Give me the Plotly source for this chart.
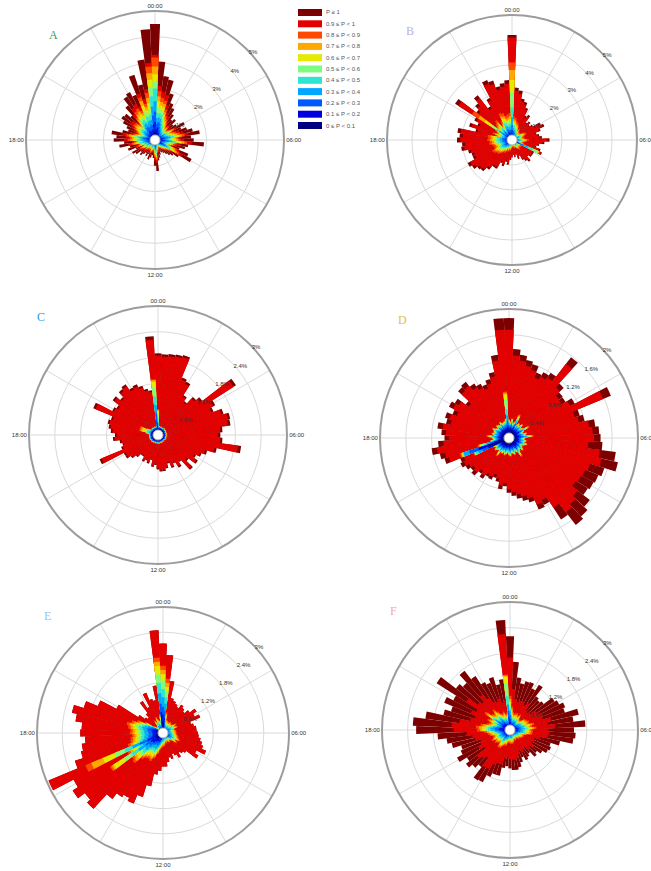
import plotly.graph_objects as go

# ---------------- categories / ticks ----------------
directions_deg = list(range(0, 360, 5))           # 72 direction bins (clockwise from 00:00)
hour_labels = ["00:00", "06:00", "12:00", "18:00"]
categories = ["P ≥ 1", "0.9 ≤ P < 1", "0.8 ≤ P < 0.9", "0.7 ≤ P < 0.8", "0.6 ≤ P < 0.7",
              "0.5 ≤ P < 0.6", "0.4 ≤ P < 0.5", "0.3 ≤ P < 0.4", "0.2 ≤ P < 0.3",
              "0.1 ≤ P < 0.2", "0 ≤ P < 0.1"]
colors = ["#7c0000", "#e20000", "#ff4800", "#ffa800", "#e4ea00", "#7cfc82",
          "#30e4d4", "#00a6ff", "#0058ff", "#0000df", "#00007e"]
panel_letters = ["A", "B", "C", "D", "E", "F"]
letter_colors = ["#3c9a5f", "#b4b4e0", "#2e9bdc", "#e6c04a", "#90c8ea", "#f2a6bf"]
ticks_A = [1, 2, 3, 4, 5]
ticks_B = [1, 2, 3, 4, 5]
ticks_C = [0.6, 1.2, 1.8, 2.4, 3]
ticks_D = [0.4, 0.8, 1.2, 1.6, 2]
ticks_E = [0.6, 1.2, 1.8, 2.4, 3]
ticks_F = [0.6, 1.2, 1.8, 2.4, 3]

# ---------------- data: cumulative frequency per bin, units of 0.01 % ----------------
# *_total = all records, *_lt_1 = P < 1, *_lt_09 = P < 0.9, ... , *_lt_01 = P < 0.1
A_total = [450,305,250,240,190,155,140,120,100,110,90,100,130,110,130,150,175,140,150,190,130,120,100,140,160,110,90,80,70,60,55,50,60,70,80,120,100,70,60,70,80,60,70,60,70,80,70,90,100,80,110,100,140,120,160,150,170,130,110,120,140,155,150,130,170,200,210,190,265,220,315,430]
A_lt_1 = [330,210,188,180,143,116,105,90,75,83,68,75,98,83,98,113,131,105,113,143,98,90,75,105,120,83,68,60,53,45,41,38,45,53,60,90,75,53,45,53,60,45,53,45,53,60,53,68,75,60,83,75,105,90,120,113,128,98,83,90,105,116,113,98,128,150,158,143,190,165,200,300]
A_lt_09 = [320,190,165,158,125,102,92,79,66,73,59,66,86,73,86,99,116,92,99,125,86,79,66,92,106,73,59,53,46,40,36,33,40,46,53,79,66,46,40,46,53,40,46,40,46,53,46,59,66,53,73,66,92,79,106,99,112,86,73,79,92,102,99,86,112,132,139,125,175,145,185,285]
A_lt_08 = [285,170,150,144,114,93,84,72,60,66,54,60,78,66,78,90,105,84,90,114,78,72,60,84,96,66,54,48,42,36,33,30,36,42,48,72,60,42,36,42,48,36,42,36,42,48,42,54,60,48,66,60,84,72,96,90,102,78,66,72,84,93,90,78,102,120,126,114,160,132,165,260]
A_lt_07 = [255,150,135,130,103,84,76,65,54,59,49,54,70,59,70,81,95,76,81,103,70,65,54,76,86,59,49,43,38,32,30,27,32,38,43,65,54,38,32,38,43,32,38,32,38,43,38,49,54,43,59,54,76,65,86,81,92,70,59,65,76,84,81,70,92,108,113,103,140,119,145,235]
A_lt_06 = [225,125,120,115,91,74,67,58,48,53,43,48,62,53,62,72,84,67,72,91,62,58,48,67,77,53,43,38,34,29,26,24,29,34,38,58,48,34,29,34,38,29,34,29,34,38,34,43,48,38,53,48,67,58,77,72,82,62,53,58,67,74,72,62,82,96,101,91,115,106,120,205]
A_lt_05 = [200,105,105,101,80,65,59,50,42,46,38,42,55,46,55,63,74,59,63,80,55,50,42,59,67,46,38,34,29,25,23,21,25,29,34,50,42,29,25,29,34,25,29,25,29,34,29,38,42,34,46,42,59,50,67,63,71,55,46,50,59,65,63,55,71,84,88,80,95,92,100,170]
A_lt_04 = [150,85,88,84,67,54,49,42,35,39,32,35,46,39,46,53,61,49,53,67,46,42,35,49,56,39,32,28,25,21,19,18,21,25,28,42,35,25,21,25,28,21,25,21,25,28,25,32,35,28,39,35,49,42,56,53,60,46,39,42,49,54,53,46,60,70,74,67,75,77,80,130]
A_lt_03 = [110,62,70,67,53,43,39,34,28,31,25,28,36,31,36,42,49,39,42,53,36,34,28,39,45,31,25,22,20,17,15,14,17,20,22,34,28,20,17,20,22,17,20,17,20,22,20,25,28,22,31,28,39,34,45,42,48,36,31,34,39,43,42,36,48,56,59,53,55,62,60,95]
A_lt_02 = [70,42,50,48,38,31,28,24,20,22,18,20,26,22,26,30,35,28,30,38,26,24,20,28,32,22,18,16,14,12,11,10,12,14,16,24,20,14,12,14,16,12,14,12,14,16,14,18,20,16,22,20,28,24,32,30,34,26,22,24,28,31,30,26,34,40,42,38,38,44,40,60]
A_lt_01 = [35,24,30,29,23,19,17,14,12,13,11,12,16,13,16,18,21,17,18,23,16,14,12,17,19,13,11,10,8,7,7,6,7,8,10,14,12,8,7,8,10,7,8,7,8,10,8,11,12,10,13,12,17,14,19,18,20,16,13,14,17,19,18,16,20,24,25,23,22,26,22,30]

B_total = [420,210,200,170,160,140,110,120,90,100,90,100,130,140,120,100,110,120,150,130,110,100,120,130,100,100,100,90,110,100,90,70,80,60,70,60,70,80,100,90,110,100,130,130,150,170,175,190,200,170,170,180,205,200,220,210,220,150,180,150,170,270,180,200,225,160,190,260,250,220,230,240]
B_lt_1 = [410,197,188,160,150,132,103,113,85,94,85,94,122,132,113,94,103,113,141,122,103,94,113,125,94,94,94,85,103,94,85,66,75,56,66,56,66,75,94,85,103,94,122,122,141,160,165,179,188,160,160,169,193,188,207,197,207,141,169,141,160,254,169,188,212,150,179,244,235,207,216,226]
B_lt_09 = [310,95,90,77,72,63,50,54,41,45,41,45,59,63,54,45,50,54,68,59,50,45,54,120,45,45,45,41,50,45,41,32,36,27,32,27,32,36,45,41,50,45,59,59,68,77,79,86,90,77,77,81,92,90,99,95,99,68,81,68,77,190,81,90,101,72,86,117,113,99,104,108]
B_lt_08 = [280,84,80,68,64,56,44,48,36,40,36,40,52,56,48,40,44,48,60,52,44,40,48,118,40,40,40,36,44,40,36,28,32,24,28,24,28,32,40,36,44,40,52,52,60,68,70,76,80,68,68,72,82,80,88,84,88,60,72,60,68,160,72,80,90,64,76,104,100,88,92,96]
B_lt_07 = [240,76,72,61,58,50,40,43,32,36,32,36,47,50,43,36,40,43,54,47,40,36,43,116,36,36,36,32,40,36,32,25,29,22,25,22,25,29,36,32,40,36,47,47,54,61,63,68,72,61,61,65,74,72,79,76,79,54,65,54,61,130,65,72,81,58,68,94,90,79,83,86]
B_lt_06 = [190,67,64,54,51,45,35,38,29,32,29,32,42,45,38,32,35,38,48,42,35,32,38,114,32,32,32,29,35,32,29,22,26,19,22,19,22,26,32,29,35,32,42,42,48,54,56,61,64,54,54,58,66,64,70,67,70,48,58,48,54,100,58,64,72,51,61,83,80,70,74,77]
B_lt_05 = [130,59,56,48,45,39,31,34,25,28,25,28,36,39,34,28,31,34,42,36,31,28,34,90,28,28,28,25,31,28,25,20,22,17,20,17,20,22,28,25,31,28,36,36,42,48,49,53,56,48,48,50,57,56,62,59,62,42,50,42,48,75,50,56,63,45,53,73,70,62,64,67]
B_lt_04 = [90,48,46,39,37,32,25,28,21,23,21,23,30,32,28,23,25,28,35,30,25,23,28,70,23,23,23,21,25,23,21,16,18,14,16,14,16,18,23,21,25,23,30,30,35,39,40,44,46,39,39,41,47,46,51,48,51,35,41,35,39,60,41,46,52,37,44,60,58,51,53,55]
B_lt_03 = [60,38,36,31,29,25,20,22,16,18,16,18,23,25,22,18,20,22,27,23,20,18,22,50,18,18,18,16,20,18,16,13,14,11,13,11,13,14,18,16,20,18,23,23,27,31,32,34,36,31,31,32,37,36,40,38,40,27,32,27,31,45,32,36,41,29,34,47,45,40,41,43]
B_lt_02 = [40,27,26,22,21,18,14,16,12,13,12,13,17,18,16,13,14,16,20,17,14,13,16,32,13,13,13,12,14,13,12,9,10,8,9,8,9,10,13,12,14,13,17,17,20,22,23,25,26,22,22,23,27,26,29,27,29,20,23,20,22,32,23,26,29,21,25,34,33,29,30,31]
B_lt_01 = [20,17,16,14,13,11,9,10,7,8,7,8,10,11,10,8,9,10,12,10,9,8,10,18,8,8,8,7,9,8,7,6,6,5,6,5,6,6,8,7,9,8,10,10,12,14,14,15,16,14,14,14,16,16,18,17,18,12,14,12,14,20,14,16,18,13,15,21,20,18,18,19]

C_total = [190,188,190,192,195,145,140,110,100,120,130,215,150,140,160,172,170,150,145,150,195,140,120,110,100,110,90,110,80,90,75,83,70,80,85,85,80,70,75,60,70,65,70,60,60,70,80,90,90,147,90,85,90,105,100,110,116,120,115,163,120,115,133,120,135,140,125,128,120,110,105,230]
C_lt_1 = [185,183,185,187,190,140,135,106,96,115,125,208,145,135,155,166,164,145,140,145,188,135,115,106,96,106,86,106,77,86,72,80,67,77,82,82,77,67,72,57,67,62,67,57,57,67,77,86,86,142,86,82,86,101,96,106,112,116,111,157,116,111,128,116,130,135,120,123,116,106,101,222]
C_lt_09 = [60,21,22,20,21,22,20,21,20,22,21,20,22,21,20,21,22,20,21,22,20,21,20,22,21,20,19,21,20,19,20,21,19,20,21,20,21,19,20,21,20,19,21,20,21,22,20,21,22,22,22,21,21,22,21,22,30,45,45,45,30,22,20,21,22,21,20,22,21,20,22,130]
C_lt_08 = [58,20,21,19,20,21,19,20,19,21,20,19,21,20,19,20,21,19,20,21,19,20,19,21,20,19,18,20,19,18,19,20,18,19,20,19,20,18,19,20,19,18,20,19,20,21,19,20,21,21,21,20,20,21,20,21,28,42,42,42,28,21,19,20,21,20,19,21,20,19,21,128]
C_lt_07 = [55,20,21,19,20,21,19,20,19,21,20,19,21,20,19,20,21,19,20,21,19,20,19,21,20,19,18,20,19,18,19,20,18,19,20,19,20,18,19,20,19,18,20,19,20,21,19,20,21,21,21,20,20,21,20,21,26,38,38,38,26,21,19,20,21,20,19,21,20,19,21,124]
C_lt_06 = [45,19,20,18,19,20,18,19,18,20,19,18,20,19,18,19,20,18,19,20,18,19,18,20,19,18,17,19,18,17,18,19,17,18,19,18,19,17,18,19,18,17,19,18,19,20,18,19,20,20,20,19,19,20,19,20,23,32,32,32,23,20,18,19,20,19,18,20,19,18,20,110]
C_lt_05 = [35,19,20,18,19,20,18,19,18,20,19,18,20,19,18,19,20,18,19,20,18,19,18,20,19,18,17,19,18,17,18,19,17,18,19,18,19,17,18,19,18,17,19,18,19,20,18,19,20,20,20,19,19,20,19,20,21,27,27,27,21,20,18,19,20,19,18,20,19,18,20,90]
C_lt_04 = [28,18,19,17,18,19,17,18,17,19,18,17,19,18,17,18,19,17,18,19,17,18,17,19,18,17,16,18,17,16,17,18,16,17,18,17,18,16,17,18,17,16,18,17,18,19,17,18,19,19,19,18,18,19,18,19,19,22,22,22,19,19,17,18,19,18,17,19,18,17,19,70]
C_lt_03 = [22,17,18,16,17,18,16,17,16,18,17,16,18,17,16,17,18,16,17,18,16,17,16,18,17,16,15,17,16,15,16,17,15,16,17,16,17,15,16,17,16,15,17,16,17,18,16,17,18,18,18,17,17,18,17,18,17,18,18,18,17,18,16,17,18,17,16,18,17,16,18,50]
C_lt_02 = [16,16,17,15,16,17,15,16,15,17,16,15,17,16,15,16,17,15,16,17,15,16,15,17,16,15,14,16,15,14,15,16,14,15,16,15,16,14,15,16,15,14,16,15,16,17,15,16,17,17,17,16,16,17,16,17,16,17,17,17,16,17,15,16,17,16,15,17,16,15,17,30]
C_lt_01 = [11,14,15,13,14,15,13,14,13,15,14,13,15,14,13,14,15,13,14,15,13,14,13,15,14,13,12,14,13,12,13,14,12,13,14,13,14,12,13,14,13,12,14,13,14,15,13,14,15,15,15,14,14,15,14,15,14,15,15,15,14,15,13,14,15,14,13,15,14,13,15,15]

D_total = [186,138,130,124,120,110,115,120,158,115,105,104,115,171,115,120,135,140,142,145,167,173,155,150,148,145,158,165,170,150,117,120,105,100,95,90,85,75,80,70,65,70,68,75,70,79,75,80,85,82,105,110,121,110,100,105,112,100,104,95,105,100,85,107,110,100,95,90,96,105,130,186]
D_lt_1 = [168,128,121,115,111,102,107,111,145,107,98,97,107,158,107,111,125,130,132,123,142,147,132,128,126,123,134,140,145,128,109,112,98,93,88,84,79,70,74,65,60,65,63,70,65,73,70,74,79,76,98,102,113,102,93,98,104,93,97,88,98,93,79,100,102,93,88,84,89,98,121,168]
D_lt_09 = [29,26,31,25,27,40,24,28,26,30,25,27,36,26,24,29,27,38,26,25,28,26,30,27,24,26,29,25,27,35,26,24,28,26,25,29,27,24,26,28,25,27,26,34,25,27,29,26,28,60,80,50,30,26,27,35,25,28,26,27,30,26,24,28,27,25,29,26,27,28,31,72]
D_lt_08 = [28,25,30,24,26,38,23,27,25,29,24,26,34,25,23,28,26,36,25,24,27,25,29,26,23,25,28,24,26,33,25,23,27,25,24,28,26,23,25,27,24,26,25,32,24,26,28,25,27,59,78,48,29,25,26,33,24,27,25,26,29,25,23,27,26,24,28,25,26,27,30,70]
D_lt_07 = [27,24,29,23,25,36,22,26,24,28,23,25,32,24,22,27,25,34,24,23,26,24,28,25,22,24,27,23,25,31,24,22,26,24,23,27,25,22,24,26,23,25,24,30,23,25,27,24,26,58,77,46,28,24,25,31,23,26,24,25,28,24,22,26,25,23,27,24,25,26,29,68]
D_lt_06 = [26,23,28,22,24,34,21,25,23,27,22,24,30,23,21,26,24,32,23,22,25,23,27,24,21,23,26,22,24,29,23,21,25,23,22,26,24,21,23,25,22,24,23,28,22,24,26,23,25,57,76,44,27,23,24,29,22,25,23,24,27,23,21,25,24,22,26,23,24,25,28,60]
D_lt_05 = [25,22,27,21,23,32,20,24,22,26,21,23,28,22,20,25,23,30,22,21,24,22,26,23,20,22,25,21,23,27,22,20,24,22,21,25,23,20,22,24,21,23,22,26,21,23,25,22,24,56,75,40,26,22,23,27,21,24,22,23,26,22,20,24,23,21,25,22,23,24,27,45]
D_lt_04 = [23,20,24,19,21,28,18,22,20,23,19,21,25,20,18,23,21,27,20,19,22,20,23,21,18,20,23,19,21,24,20,18,22,20,19,23,21,18,20,22,19,21,20,23,19,21,23,20,22,52,74,36,23,20,21,24,19,22,20,21,23,20,18,22,21,19,23,20,21,22,24,35]
D_lt_03 = [20,18,21,17,19,24,16,19,18,20,17,19,22,18,16,20,19,23,18,17,19,18,20,19,16,18,20,17,19,21,18,16,19,18,17,20,19,16,18,19,17,19,18,20,17,19,20,18,19,45,65,30,20,18,19,21,17,19,18,19,20,18,16,19,19,17,20,18,19,19,21,27]
D_lt_02 = [17,15,18,15,16,19,14,16,15,17,15,16,18,15,14,17,16,19,15,15,16,15,17,16,14,15,17,15,16,18,15,14,16,15,15,17,16,14,15,16,15,16,15,17,15,16,17,15,16,35,50,24,17,15,16,18,15,16,15,16,17,15,14,16,16,15,17,15,16,16,18,20]
D_lt_01 = [13,12,14,12,13,14,11,13,12,13,12,13,14,12,11,13,13,14,12,12,13,12,13,13,11,12,13,12,13,14,12,11,13,12,12,13,13,11,12,13,12,13,12,13,12,13,13,12,13,25,35,18,13,12,13,14,12,13,12,13,13,12,11,13,13,12,13,12,13,13,14,15]

E_total = [213,186,125,85,80,75,70,80,75,70,80,95,85,96,70,75,80,80,83,85,90,95,100,111,90,100,70,65,60,70,60,55,65,60,70,80,80,90,100,130,160,182,174,181,198,245,235,255,240,295,220,200,195,186,197,194,210,222,198,168,125,70,55,50,60,90,70,104,85,80,114,245]
E_lt_1 = [213,186,125,85,80,75,70,80,75,70,80,95,85,96,70,75,80,80,83,85,90,95,100,111,90,100,70,65,60,70,60,55,65,60,70,80,80,90,100,130,160,182,174,181,198,245,235,255,240,295,220,200,195,186,197,194,210,222,198,168,125,70,55,50,60,90,70,104,85,80,114,245]
E_lt_09 = [160,130,50,34,32,30,28,32,30,28,32,38,34,38,28,30,32,32,33,34,36,38,40,44,36,40,28,26,24,28,24,22,26,24,28,32,32,36,40,52,64,73,70,72,79,98,94,150,96,200,88,80,78,74,79,78,84,89,79,67,50,28,22,20,24,36,28,42,34,32,46,180]
E_lt_08 = [150,120,46,31,30,28,26,30,28,26,30,35,31,36,26,28,30,30,31,31,33,35,37,41,33,37,26,24,22,26,22,20,24,22,26,30,30,33,37,48,59,67,64,67,73,91,87,145,89,185,81,74,72,69,73,72,78,82,73,62,46,26,20,19,22,33,26,38,31,30,42,170]
E_lt_07 = [140,110,43,29,27,26,24,27,26,24,27,32,29,33,24,26,27,27,28,29,31,32,34,38,31,34,24,22,20,24,20,19,22,20,24,27,27,31,34,44,54,62,59,62,67,83,80,140,82,155,75,68,66,63,67,66,71,75,67,57,43,24,19,17,20,31,24,35,29,27,39,160]
E_lt_06 = [125,100,38,26,24,23,21,24,23,21,24,29,26,29,21,23,24,24,25,26,27,29,30,33,27,30,21,20,18,21,18,17,20,18,21,24,24,27,30,39,48,55,52,54,59,74,71,110,72,125,66,60,59,56,59,58,63,67,59,50,38,21,17,15,18,27,21,31,26,24,34,140]
E_lt_05 = [105,85,34,23,22,20,19,22,20,19,22,26,23,26,19,20,22,22,22,23,24,26,27,30,24,27,19,18,16,19,16,15,18,16,19,22,22,24,27,35,43,49,47,49,53,66,63,90,65,100,59,54,53,50,53,52,57,60,53,45,34,19,15,14,16,24,19,28,23,22,31,120]
E_lt_04 = [85,70,29,20,18,17,16,18,17,16,18,22,20,22,16,17,18,18,19,20,21,22,23,26,21,23,16,15,14,16,14,13,15,14,16,18,18,21,23,30,37,42,40,42,46,56,54,70,55,80,51,46,45,43,45,45,48,51,46,39,29,16,13,12,14,21,16,24,20,18,26,95]
E_lt_03 = [62,52,23,15,14,14,13,14,14,13,14,17,15,17,13,14,14,14,15,15,16,17,18,20,16,18,13,12,11,13,11,10,12,11,13,14,14,16,18,23,29,33,31,33,36,44,42,50,43,60,40,36,35,33,35,35,38,40,36,30,23,13,10,9,11,16,13,19,15,14,21,70]
E_lt_02 = [44,36,16,11,10,10,9,10,10,9,10,12,11,12,9,10,10,10,11,11,12,12,13,14,12,13,9,8,8,9,8,7,8,8,9,10,10,12,13,17,21,24,23,24,26,32,31,35,31,40,29,26,25,24,26,25,27,29,26,22,16,9,7,7,8,12,9,14,11,10,15,50]
E_lt_01 = [26,22,10,7,6,6,6,6,6,6,6,8,7,8,6,6,6,6,7,7,7,8,8,9,7,8,6,5,5,6,5,4,5,5,6,6,6,7,8,10,13,15,14,14,16,20,19,20,19,22,18,16,16,15,16,16,17,18,16,13,10,6,4,4,5,7,6,8,7,6,9,30]

F_total = [220,160,124,112,120,122,110,126,100,95,100,124,130,140,135,165,150,177,150,154,150,120,100,104,100,90,80,85,70,75,80,70,80,90,95,94,90,85,90,110,110,119,138,140,110,120,130,120,140,125,120,140,150,170,220,228,200,160,145,167,150,204,160,150,175,150,127,120,130,110,120,258]
F_lt_1 = [170,96,74,67,72,73,66,76,60,57,60,74,78,84,81,99,90,106,90,92,90,72,60,62,60,68,60,64,53,56,60,53,60,68,71,70,68,64,68,83,83,89,104,105,83,90,98,72,84,75,72,84,90,102,132,137,120,96,87,100,90,122,96,90,105,90,76,72,78,66,72,225]
F_lt_09 = [80,56,43,39,42,43,39,44,35,33,35,43,46,49,47,58,53,62,53,54,53,42,35,36,35,32,28,30,25,26,28,25,28,32,33,33,32,30,32,39,39,42,48,49,39,42,46,42,49,44,42,49,53,60,77,80,70,56,51,58,53,71,56,53,61,53,44,42,46,39,42,130]
F_lt_08 = [73,51,40,36,38,39,35,40,32,30,32,40,42,45,43,53,48,57,48,49,48,38,32,33,32,29,26,27,22,24,26,22,26,29,30,30,29,27,29,35,35,38,44,45,35,38,42,38,45,40,38,45,48,54,70,73,64,51,46,53,48,65,51,48,56,48,41,38,42,35,38,128]
F_lt_07 = [66,46,36,32,35,35,32,37,29,28,29,36,38,41,39,48,44,51,44,45,44,35,29,30,29,26,23,25,20,22,23,20,23,26,28,27,26,25,26,32,32,35,40,41,32,35,38,35,41,36,35,41,44,49,64,66,58,46,42,48,44,59,46,44,51,44,37,35,38,32,35,125]
F_lt_06 = [58,42,32,29,31,32,29,33,26,25,26,32,34,36,35,43,39,46,39,40,39,31,26,27,26,23,21,22,18,20,21,18,21,23,25,24,23,22,23,29,29,31,36,36,29,31,34,31,36,33,31,36,39,44,57,59,52,42,38,43,39,53,42,39,46,39,33,31,34,29,31,110]
F_lt_05 = [50,37,29,26,28,28,25,29,23,22,23,29,30,32,31,38,35,41,35,35,35,28,23,24,23,21,18,20,16,17,18,16,18,21,22,22,21,20,21,25,25,27,32,32,25,28,30,28,32,29,28,32,35,39,51,52,46,37,33,38,35,47,37,35,40,35,29,28,30,25,28,80]
F_lt_04 = [44,32,25,22,24,24,22,25,20,19,20,25,26,28,27,33,30,35,30,31,30,24,20,21,20,18,16,17,14,15,16,14,16,18,19,19,18,17,18,22,22,24,28,28,22,24,26,24,28,25,24,28,30,34,44,46,40,32,29,33,30,41,32,30,35,30,25,24,26,22,24,60]
F_lt_03 = [35,26,20,18,19,20,18,20,16,15,16,20,21,22,22,26,24,28,24,25,24,19,16,17,16,14,13,14,11,12,13,11,13,14,15,15,14,14,14,18,18,19,22,22,18,19,21,19,22,20,19,22,24,27,35,36,32,26,23,27,24,33,26,24,28,24,20,19,21,18,19,45]
F_lt_02 = [26,19,15,13,14,15,13,15,12,11,12,15,16,17,16,20,18,21,18,18,18,14,12,12,12,11,10,10,8,9,10,8,10,11,11,11,11,10,11,13,13,14,17,17,13,14,16,14,17,15,14,17,18,20,26,27,24,19,17,20,18,24,19,18,21,18,15,14,16,13,14,30]
F_lt_01 = [15,11,9,8,8,9,8,9,7,7,7,9,9,10,9,12,11,12,11,11,11,8,7,7,7,6,6,6,5,5,6,5,6,6,7,7,6,6,6,8,8,8,10,10,8,8,9,8,10,9,8,10,11,12,15,16,14,11,10,12,11,14,11,11,12,11,9,8,9,8,8,18]

series_A = [A_total, A_lt_1, A_lt_09, A_lt_08, A_lt_07, A_lt_06, A_lt_05, A_lt_04, A_lt_03, A_lt_02, A_lt_01]
series_B = [B_total, B_lt_1, B_lt_09, B_lt_08, B_lt_07, B_lt_06, B_lt_05, B_lt_04, B_lt_03, B_lt_02, B_lt_01]
series_C = [C_total, C_lt_1, C_lt_09, C_lt_08, C_lt_07, C_lt_06, C_lt_05, C_lt_04, C_lt_03, C_lt_02, C_lt_01]
series_D = [D_total, D_lt_1, D_lt_09, D_lt_08, D_lt_07, D_lt_06, D_lt_05, D_lt_04, D_lt_03, D_lt_02, D_lt_01]
series_E = [E_total, E_lt_1, E_lt_09, E_lt_08, E_lt_07, E_lt_06, E_lt_05, E_lt_04, E_lt_03, E_lt_02, E_lt_01]
series_F = [F_total, F_lt_1, F_lt_09, F_lt_08, F_lt_07, F_lt_06, F_lt_05, F_lt_04, F_lt_03, F_lt_02, F_lt_01]

# ---------------- layout geometry (pixels) ----------------
W, H = 651, 871
panels = [
    dict(series=series_A, ticks=ticks_A, cx=155, cy=140, R=129, letter_xy=(47, 26)),
    dict(series=series_B, ticks=ticks_B, cx=512, cy=140, R=125, letter_xy=(410, 22)),
    dict(series=series_C, ticks=ticks_C, cx=158, cy=435, R=129, letter_xy=(35, 317)),
    dict(series=series_D, ticks=ticks_D, cx=509, cy=438, R=129, letter_xy=(402, 320)),
    dict(series=series_E, ticks=ticks_E, cx=163, cy=733, R=126, letter_xy=(42, 625)),
    dict(series=series_F, ticks=ticks_F, cx=510, cy=730, R=128, letter_xy=(393, 620)),
]

spoke_vals = list(range(0, 360, 30))
spoke_text = [hour_labels[v // 90] if v % 90 == 0 else "" for v in spoke_vals]

fig = go.Figure()
layout_polars = {}
annotations = []
for k, p in enumerate(panels):
    sub = "polar" if k == 0 else "polar%d" % (k + 1)
    for s in p["series"]:
        assert len(s) == len(directions_deg)
    for name, col, vals in zip(categories, colors, p["series"]):
        fig.add_trace(go.Barpolar(
            r=[v / 100.0 for v in vals], theta=directions_deg, width=5,
            marker=dict(color=col, line=dict(width=0)), name=name,
            subplot=sub, showlegend=False, hoverinfo="skip"))
    fig.add_trace(go.Scatterpolar(
        r=[0], theta=[0], mode="markers", subplot=sub, showlegend=False, hoverinfo="skip",
        marker=dict(size=10, color="white", line=dict(color="#b5b5b5", width=1))))
    cx, cy, R = p["cx"], p["cy"], p["R"]
    layout_polars[sub] = dict(
        domain=dict(x=[(cx - R) / W, (cx + R) / W], y=[1 - (cy + R) / H, 1 - (cy - R) / H]),
        bgcolor="white",
        barmode="overlay",
        radialaxis=dict(range=[0, p["ticks"][-1]], tickmode="array", tickvals=p["ticks"],
                        ticktext=["%g%%" % v for v in p["ticks"]],
                        angle=45, side="clockwise", showline=False, ticks="", tickangle=45,
                        gridcolor="#dadada", gridwidth=1,
                        tickfont=dict(size=6, color="#333333", family="Liberation Sans")),
        angularaxis=dict(direction="clockwise", rotation=90, tickmode="array",
                         tickvals=spoke_vals, ticktext=spoke_text, ticks="",
                         showline=True, linecolor="#9c9c9c", linewidth=2,
                         gridcolor="#dadada", gridwidth=1,
                         tickfont=dict(size=6, color="#333333", family="Liberation Sans")),
    )
    lx, ly = p["letter_xy"]
    annotations.append(dict(x=lx / W, y=1 - ly / H, xref="paper", yref="paper",
                            text=panel_letters[k], showarrow=False,
                            font=dict(size=12, color=letter_colors[k], family="Liberation Serif")))

# manual legend (top right of panel A)
shapes = []
for i, (name, col) in enumerate(zip(categories, colors)):
    yc = 12.5 + 11.3 * i
    shapes.append(dict(type="rect", xref="paper", yref="paper",
                       x0=298 / W, x1=322 / W, y0=1 - (yc + 3.5) / H, y1=1 - (yc - 3.5) / H,
                       fillcolor=col, line=dict(width=0)))
    annotations.append(dict(x=324 / W, y=1 - yc / H, xref="paper", yref="paper",
                            xanchor="left", yanchor="middle", text=name, showarrow=False,
                            font=dict(size=6, color="#555555", family="Liberation Sans")))

fig.update_layout(
    width=W, height=H, margin=dict(l=0, r=0, t=0, b=0),
    paper_bgcolor="white", plot_bgcolor="white", showlegend=False,
    shapes=shapes, annotations=annotations, **layout_polars)

fig.write_html("out.html", config={"displayModeBar": False},
               post_script="document.body.style.margin='0px';document.body.style.padding='0px';")
